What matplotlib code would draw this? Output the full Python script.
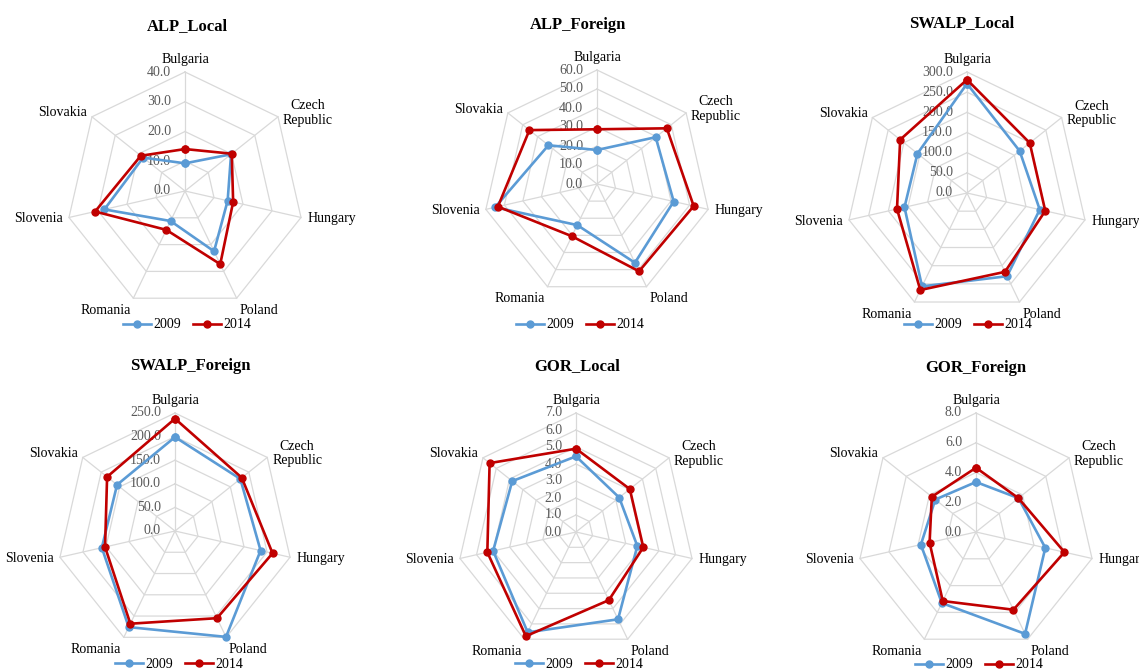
import numpy as np
import matplotlib
matplotlib.use('Agg')
import matplotlib.pyplot as plt
from matplotlib.lines import Line2D

plt.rcParams['font.family'] = ['Liberation Serif', 'DejaVu Serif']

# ---------------- data ----------------
countries = ['Bulgaria', 'Czech\nRepublic', 'Hungary', 'Poland', 'Romania', 'Slovenia', 'Slovakia']
years = ['2009', '2014']

alp_local_2009 = [9.3, 19.8, 14.7, 22.5, 11.2, 27.8, 18.0]
alp_local_2014 = [14.1, 20.1, 16.6, 27.3, 14.5, 31.0, 19.0]
alp_foreign_2009 = [17.9, 39.5, 41.4, 46.0, 24.0, 55.0, 32.7]
alp_foreign_2014 = [28.8, 47.0, 52.2, 51.0, 30.5, 53.5, 45.5]
swalp_local_2009 = [271, 167, 185, 229, 257, 159, 157]
swalp_local_2014 = [281, 199, 199, 217, 267, 178, 212]
swalp_foreign_2009 = [199, 177, 186, 249, 226, 159, 157]
swalp_foreign_2014 = [238, 181, 212, 205, 218, 152, 184]
gor_local_2009 = [4.45, 3.25, 3.7, 5.7, 6.55, 5.0, 4.8]
gor_local_2014 = [4.9, 4.05, 4.06, 4.45, 6.8, 5.35, 6.5]
gor_foreign_2009 = [3.36, 3.65, 4.78, 7.6, 5.3, 3.8, 3.5]
gor_foreign_2014 = [4.32, 3.65, 6.1, 5.8, 5.15, 3.2, 3.8]

titles = ['ALP_Local', 'ALP_Foreign', 'SWALP_Local', 'SWALP_Foreign', 'GOR_Local', 'GOR_Foreign']
series = [
    (alp_local_2009, alp_local_2014),
    (alp_foreign_2009, alp_foreign_2014),
    (swalp_local_2009, swalp_local_2014),
    (swalp_foreign_2009, swalp_foreign_2014),
    (gor_local_2009, gor_local_2014),
    (gor_foreign_2009, gor_foreign_2014),
]
axis_max = [40, 60, 300, 250, 7, 8]
axis_step = [10, 10, 50, 50, 1, 2]

# ---------------- layout (pixels) ----------------
W, H = 1139, 672
centers = [(185, 191, 119), (597, 184, 114), (967, 193, 121),
           (175, 531, 118), (576, 532, 119), (976, 532, 119)]
title_pos = [(187, 26), (578, 25), (962, 23), (190, 366), (577, 366), (976, 368)]
legend_pos = [(187, 325), (580, 325), (968, 325), (179, 664), (579, 664), (979, 665)]

colors = ['#5B9BD5', '#C00000']
grid_color = '#D9D9D9'
tick_color = '#595959'

fig = plt.figure(figsize=(W / 100, H / 100), dpi=100)
fig.patch.set_facecolor('white')

n = len(countries)
angles = np.linspace(0, 2 * np.pi, n + 1)

for i in range(6):
    cx, cy, R = centers[i]
    ax = fig.add_axes([(cx - R) / W, (H - cy - R) / H, 2 * R / W, 2 * R / H], projection='polar')
    ax.set_theta_zero_location('N')
    ax.set_theta_direction(-1)
    vmax = axis_max[i]
    ax.set_ylim(0, vmax)
    ax.grid(False)
    ax.spines['polar'].set_visible(False)
    ax.set_xticks([])
    ax.set_yticks([])
    ax.patch.set_alpha(0)

    levels = np.arange(axis_step[i], vmax + 1e-9, axis_step[i])
    for lev in levels:
        ax.plot(angles, [lev] * (n + 1), color=grid_color, lw=0.9, zorder=1, clip_on=False)
    for a in angles[:-1]:
        ax.plot([a, a], [0, vmax], color=grid_color, lw=0.9, zorder=1, clip_on=False)

    # tick labels
    for lev in np.concatenate([[0], levels]):
        ax.annotate(f'{lev:.1f}', xy=(0, lev), xytext=(-10, 0), textcoords='offset points',
                    ha='right', va='center', fontsize=10, color=tick_color, zorder=2)

    for k, vals in enumerate(series[i]):
        v = list(vals) + [vals[0]]
        ax.plot(angles, v, color=colors[k], lw=1.9, marker='o', ms=5, zorder=3 + k, clip_on=False)

    # category labels
    for j, name in enumerate(countries):
        a = angles[j]
        s, c = np.sin(a), np.cos(a)
        ha = 'left' if s > 0.1 else ('right' if s < -0.1 else 'center')
        va = 'bottom' if c > 0.9 else ('top' if c < -0.8 else 'center')
        off = 4.5
        ax.annotate(name, xy=(a, vmax), xytext=(off * s, off * c),
                    textcoords='offset points', ha=ha, va=va, fontsize=10, color='black',
                    multialignment='center', linespacing=1.15, annotation_clip=False)

    tx, ty = title_pos[i]
    fig.text(tx / W, 1 - ty / H, titles[i], ha='center', va='center', fontsize=12,
             fontweight='bold', color='black')

    handles = [Line2D([], [], color=colors[k], lw=1.9, marker='o', ms=5) for k in range(2)]
    lx, ly = legend_pos[i]
    fig.legend(handles, years, loc='center', bbox_to_anchor=(lx / W, 1 - ly / H), ncol=2,
               frameon=False, fontsize=10, handlelength=2.0, handletextpad=0.15,
               columnspacing=0.9, borderpad=0, borderaxespad=0)

fig.savefig('out.png', dpi=100, facecolor='white')
